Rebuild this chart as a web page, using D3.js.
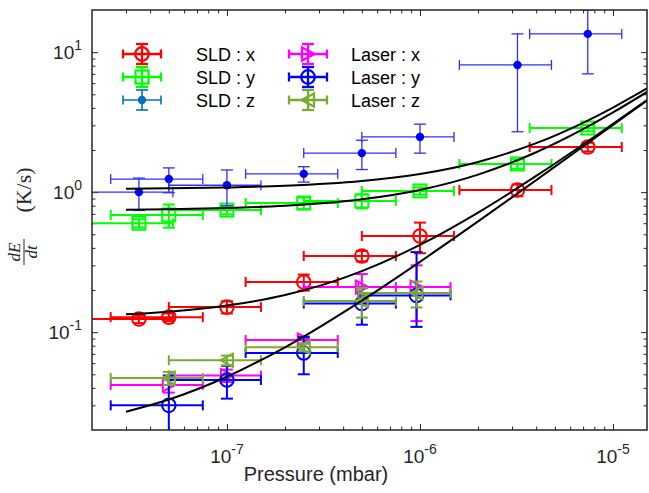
<!DOCTYPE html>
<html><head><meta charset="utf-8">
<script src="https://cdn.jsdelivr.net/npm/d3@7"></script>
<style>body{margin:0;background:#fff;} svg{display:block;}</style>
</head><body>
<svg id="chart" width="649" height="493"></svg>
<script>
// ---------- data ----------
const pressureSLD    = [3.5e-8, 5e-8, 1e-7, 2.5e-7, 5e-7, 1e-6, 3.2e-6, 7.4e-6];
const pressureSLDErr = [1.75e-8, 2.5e-8, 5e-8, 1.25e-7, 2.5e-7, 5e-7, 1.6e-6, 3.7e-6];
const sldX    = [0.124, 0.128, 0.151, 0.228, 0.35, 0.486, 1.035, 2.10];
const sldXErr = [0.008, 0.008, 0.015, 0.03, 0.03, 0.12, 0.1, 0.15];
const sldY    = [0.60, 0.687, 0.744, 0.836, 0.865, 1.02, 1.59, 2.87];
const sldYErr = [0.04, 0.13, 0.05, 0.08, 0.1, 0.06, 0.12, 0.15];
const sldZ    = [1.0, 1.24, 1.12, 1.35, 1.90, 2.48, 8.1, 13.5];
const sldZErr = [0.26, 0.25, 0.32, 0.17, 0.45, 0.58, 5.4, 6.5];

const pressureLaser    = [5e-8, 1e-7, 2.5e-7, 5e-7, 9.6e-7];
const pressureLaserErr = [2.5e-8, 5e-8, 1.25e-7, 2.5e-7, 4.8e-7];
const laserX    = [0.042, 0.049, 0.088, 0.21, 0.21];
const laserXErr = [0.005, 0.005, 0.005, 0.05, 0.09];
const laserY    = [0.030, 0.0455, 0.071, 0.16, 0.183];
const laserYErrUp  = [0.019, 0.012, 0.021, 0.047, 0.19];
const laserYErrLow = [0.019, 0.012, 0.021, 0.047, 0.074];
const laserZ    = [0.047, 0.063, 0.078, 0.167, 0.19];
const laserZErr = [0.005, 0.005, 0.005, 0.04, 0.04];

const fitPressure = [3e-8, 5e-8, 1e-7, 2e-7, 5e-7, 1e-6, 2e-6, 4e-6, 7e-6, 1e-5, 1.5e-5];
const fitSLDz  = [1.059, 1.065, 1.080, 1.109, 1.199, 1.347, 1.644, 2.238, 3.129, 4.02, 5.505];
const fitSLDy  = [0.749, 0.755, 0.770, 0.799, 0.889, 1.037, 1.334, 1.928, 2.819, 3.71, 5.195];
const fitSLDx  = [0.134, 0.140, 0.155, 0.184, 0.273, 0.420, 0.715, 1.305, 2.19, 3.075, 4.55];
const fitLaser = [0.027, 0.033, 0.048, 0.078, 0.168, 0.318, 0.618, 1.218, 2.118, 3.018, 4.518];

const xTickExps = [-7, -6, -5];
const yTickExps = [-1, 0, 1];
const legendLabels = ["SLD : x", "SLD : y", "SLD : z", "Laser : x", "Laser : y", "Laser : z"];

// ---------- setup ----------
const svg = d3.select('#chart');
const L = 92, T = 10, R = 647, B = 430;
const x = d3.scaleLog().domain([2e-8, 1.5e-5]).range([L, R]);
const y = d3.scaleLog().domain([0.02, 20]).range([B, T]);
const FONT = "'Liberation Sans', Arial, Helvetica, sans-serif";
const AX = '#262626';

svg.append('rect').attr('x',0).attr('y',0).attr('width',649).attr('height',493).attr('fill','#fff');

svg.append('defs').append('clipPath').attr('id','plotclip')
  .append('rect').attr('x',L).attr('y',T).attr('width',R-L).attr('height',B-T);

function minors(lo, hi){
  const out=[];
  for(let e=-9;e<=2;e++) for(let k=2;k<=9;k++){const v=k*Math.pow(10,e); if(v>lo*1.0001 && v<hi*0.9999) out.push(v);}
  return out;
}
const xMaj = xTickExps.map(e=>Math.pow(10,e));
const yMaj = yTickExps.map(e=>Math.pow(10,e));
const xMin = minors(2e-8,1.5e-5);
const yMin = minors(0.02,20);

function addAxis(gen, tx, ty){
  const g = svg.append('g').attr('transform',`translate(${tx},${ty})`).call(gen);
  g.select('.domain').remove();
  g.selectAll('line').attr('stroke',AX).attr('stroke-width',1);
  g.selectAll('text').remove();
  return g;
}
addAxis(d3.axisBottom(x).tickValues(xMaj).tickSizeInner(-6).tickSizeOuter(0), 0, B);
addAxis(d3.axisBottom(x).tickValues(xMin).tickSizeInner(-3.5).tickSizeOuter(0), 0, B);
addAxis(d3.axisTop(x).tickValues(xMaj).tickSizeInner(-6).tickSizeOuter(0), 0, T);
addAxis(d3.axisTop(x).tickValues(xMin).tickSizeInner(-3.5).tickSizeOuter(0), 0, T);
addAxis(d3.axisLeft(y).tickValues(yMaj).tickSizeInner(-6).tickSizeOuter(0), L, 0);
addAxis(d3.axisLeft(y).tickValues(yMin).tickSizeInner(-3.5).tickSizeOuter(0), L, 0);
addAxis(d3.axisRight(y).tickValues(yMaj).tickSizeInner(-6).tickSizeOuter(0), R, 0);
addAxis(d3.axisRight(y).tickValues(yMin).tickSizeInner(-3.5).tickSizeOuter(0), R, 0);

// tick labels
xTickExps.forEach(e=>{
  const t = svg.append('text').attr('x', x(Math.pow(10,e))).attr('y', 463)
    .attr('text-anchor','middle').attr('font-family',FONT).attr('font-size',19).attr('fill',AX);
  t.append('tspan').text('10');
  t.append('tspan').attr('dy',-9).attr('font-size',14).text(String(e));
});
yTickExps.forEach(e=>{
  const t = svg.append('text').attr('x', 82).attr('y', y(Math.pow(10,e))+7)
    .attr('text-anchor','end').attr('font-family',FONT).attr('font-size',19).attr('fill',AX);
  t.append('tspan').text('10');
  t.append('tspan').attr('dy',-9).attr('font-size',14).text(String(e));
});

// axis labels
svg.append('text').attr('x', 316).attr('y', 481).attr('text-anchor','middle')
  .attr('font-family',FONT).attr('font-size',20).attr('fill',AX).text('Pressure (mbar)');

const yl = svg.append('g').attr('transform','translate(24,218) rotate(-90)');
const SERIF = "'Liberation Serif','Times New Roman',serif";
yl.append('text').attr('x',-34).attr('y',-4).attr('text-anchor','middle').attr('font-family',SERIF)
  .attr('font-style','italic').attr('font-size',17).attr('fill',AX).text('dE');
yl.append('line').attr('x1',-47).attr('x2',-21).attr('y1',0).attr('y2',0).attr('stroke',AX).attr('stroke-width',1);
yl.append('text').attr('x',-34).attr('y',13).attr('text-anchor','middle').attr('font-family',SERIF)
  .attr('font-style','italic').attr('font-size',17).attr('fill',AX).text('dt');
yl.append('text').attr('x',28).attr('y',7).attr('text-anchor','middle').attr('font-family',SERIF)
  .attr('font-size',22).attr('fill',AX).text('(K/s)');

// ---------- series ----------
function zip(px, pe, v, veUp, veLow){ return px.map((p,i)=>({p, pe:pe[i], v:v[i], up:veUp[i], low:(veLow||veUp)[i]})); }
const series = [
  {name:legendLabels[0], data:zip(pressureSLD,pressureSLDErr,sldX,sldXErr), color:'#ff0000', legColor:'#ff0000', marker:'circle', lw:2},
  {name:legendLabels[1], data:zip(pressureSLD,pressureSLDErr,sldY,sldYErr), color:'#00ff00', legColor:'#00ff00', marker:'square', lw:2},
  {name:legendLabels[2], data:zip(pressureSLD,pressureSLDErr,sldZ,sldZErr), color:'#2f2fff', mColor:'#0000ff', legColor:'#0072bd', marker:'dot', lw:1.3},
  {name:legendLabels[3], data:zip(pressureLaser,pressureLaserErr,laserX,laserXErr), color:'#ff00ff', legColor:'#ff00ff', marker:'triRight', lw:2},
  {name:legendLabels[4], data:zip(pressureLaser,pressureLaserErr,laserY,laserYErrUp,laserYErrLow), color:'#0000ff', legColor:'#0000ff', marker:'circle', lw:2},
  {name:legendLabels[5], data:zip(pressureLaser,pressureLaserErr,laserZ,laserZErr), color:'#77ac30', legColor:'#77ac30', marker:'triLeft', lw:2},
];

function drawMarker(g, type, cx, cy, color, lw){
  if(type==='circle'){
    g.append('circle').attr('cx',cx).attr('cy',cy).attr('r',6.8).attr('fill','none').attr('stroke',color).attr('stroke-width',lw);
  } else if(type==='square'){
    g.append('rect').attr('x',cx-6.5).attr('y',cy-6.5).attr('width',13).attr('height',13).attr('fill','none').attr('stroke',color).attr('stroke-width',lw);
  } else if(type==='dot'){
    g.append('circle').attr('cx',cx).attr('cy',cy).attr('r',4.2).attr('fill',color);
  } else if(type==='triRight'){
    g.append('path').attr('d',`M${cx-6},${cy-6.5}L${cx+6.5},${cy}L${cx-6},${cy+6.5}Z`).attr('fill','none').attr('stroke',color).attr('stroke-width',lw);
  } else if(type==='triLeft'){
    g.append('path').attr('d',`M${cx+6},${cy-6.5}L${cx-6.5},${cy}L${cx+6},${cy+6.5}Z`).attr('fill','none').attr('stroke',color).attr('stroke-width',lw);
  }
}

const plot = svg.append('g').attr('clip-path','url(#plotclip)');
series.forEach(s=>{
  const g = plot.append('g');
  s.data.forEach(d=>{
    const cx = x(d.p), cy = y(d.v);
    const x0 = x(d.p - d.pe), x1 = x(d.p + d.pe);
    const y0 = d.v - d.low > 0 ? y(d.v - d.low) : B + 20;
    const y1 = y(d.v + d.up);
    const st = sel=>sel.attr('stroke',s.color).attr('stroke-width',s.lw).attr('fill','none');
    st(g.append('line').attr('x1',x0).attr('x2',x1).attr('y1',cy).attr('y2',cy));
    st(g.append('line').attr('x1',x0).attr('x2',x0).attr('y1',cy-5).attr('y2',cy+5));
    st(g.append('line').attr('x1',x1).attr('x2',x1).attr('y1',cy-5).attr('y2',cy+5));
    st(g.append('line').attr('x1',cx).attr('x2',cx).attr('y1',y0).attr('y2',y1));
    st(g.append('line').attr('x1',cx-6).attr('x2',cx+6).attr('y1',y0).attr('y2',y0));
    st(g.append('line').attr('x1',cx-6).attr('x2',cx+6).attr('y1',y1).attr('y2',y1));
    drawMarker(g, s.marker, cx, cy, s.mColor || s.color, s.lw);
  });
});

// fit curves
const line = d3.line().x(d=>x(d[0])).y(d=>y(d[1])).curve(d3.curveMonotoneX);
[fitSLDz, fitSLDy, fitSLDx, fitLaser].forEach(f=>{
  plot.append('path').datum(fitPressure.map((p,i)=>[p,f[i]])).attr('d',line)
    .attr('fill','none').attr('stroke','#000').attr('stroke-width',2);
});

// box
svg.append('rect').attr('x',L).attr('y',T).attr('width',R-L).attr('height',B-T)
  .attr('fill','none').attr('stroke',AX).attr('stroke-width',1.5);

// ---------- legend ----------
const legCols = [{icon:142, text:196}, {icon:308, text:351}];
const legRows = [54, 77, 100];
series.forEach((s,i)=>{
  const col = legCols[Math.floor(i/3)], ry = legRows[i%3];
  const g = svg.append('g');
  const c = s.legColor, lw = s.lw+0.3;
  const st = sel=>sel.attr('stroke',c).attr('stroke-width',lw);
  st(g.append('line').attr('x1',col.icon-19).attr('x2',col.icon+19).attr('y1',ry).attr('y2',ry));
  st(g.append('line').attr('x1',col.icon-19).attr('x2',col.icon-19).attr('y1',ry-4.5).attr('y2',ry+4.5));
  st(g.append('line').attr('x1',col.icon+19).attr('x2',col.icon+19).attr('y1',ry-4.5).attr('y2',ry+4.5));
  st(g.append('line').attr('x1',col.icon).attr('x2',col.icon).attr('y1',ry-10).attr('y2',ry+10));
  st(g.append('line').attr('x1',col.icon-6).attr('x2',col.icon+6).attr('y1',ry-10).attr('y2',ry-10));
  st(g.append('line').attr('x1',col.icon-6).attr('x2',col.icon+6).attr('y1',ry+10).attr('y2',ry+10));
  drawMarker(g, s.marker, col.icon, ry, c, lw);
  svg.append('text').attr('x',col.text).attr('y',ry+6.5).attr('font-family',FONT).attr('font-size',18)
    .attr('fill','#000').text(s.name);
});
</script>
</body></html>
